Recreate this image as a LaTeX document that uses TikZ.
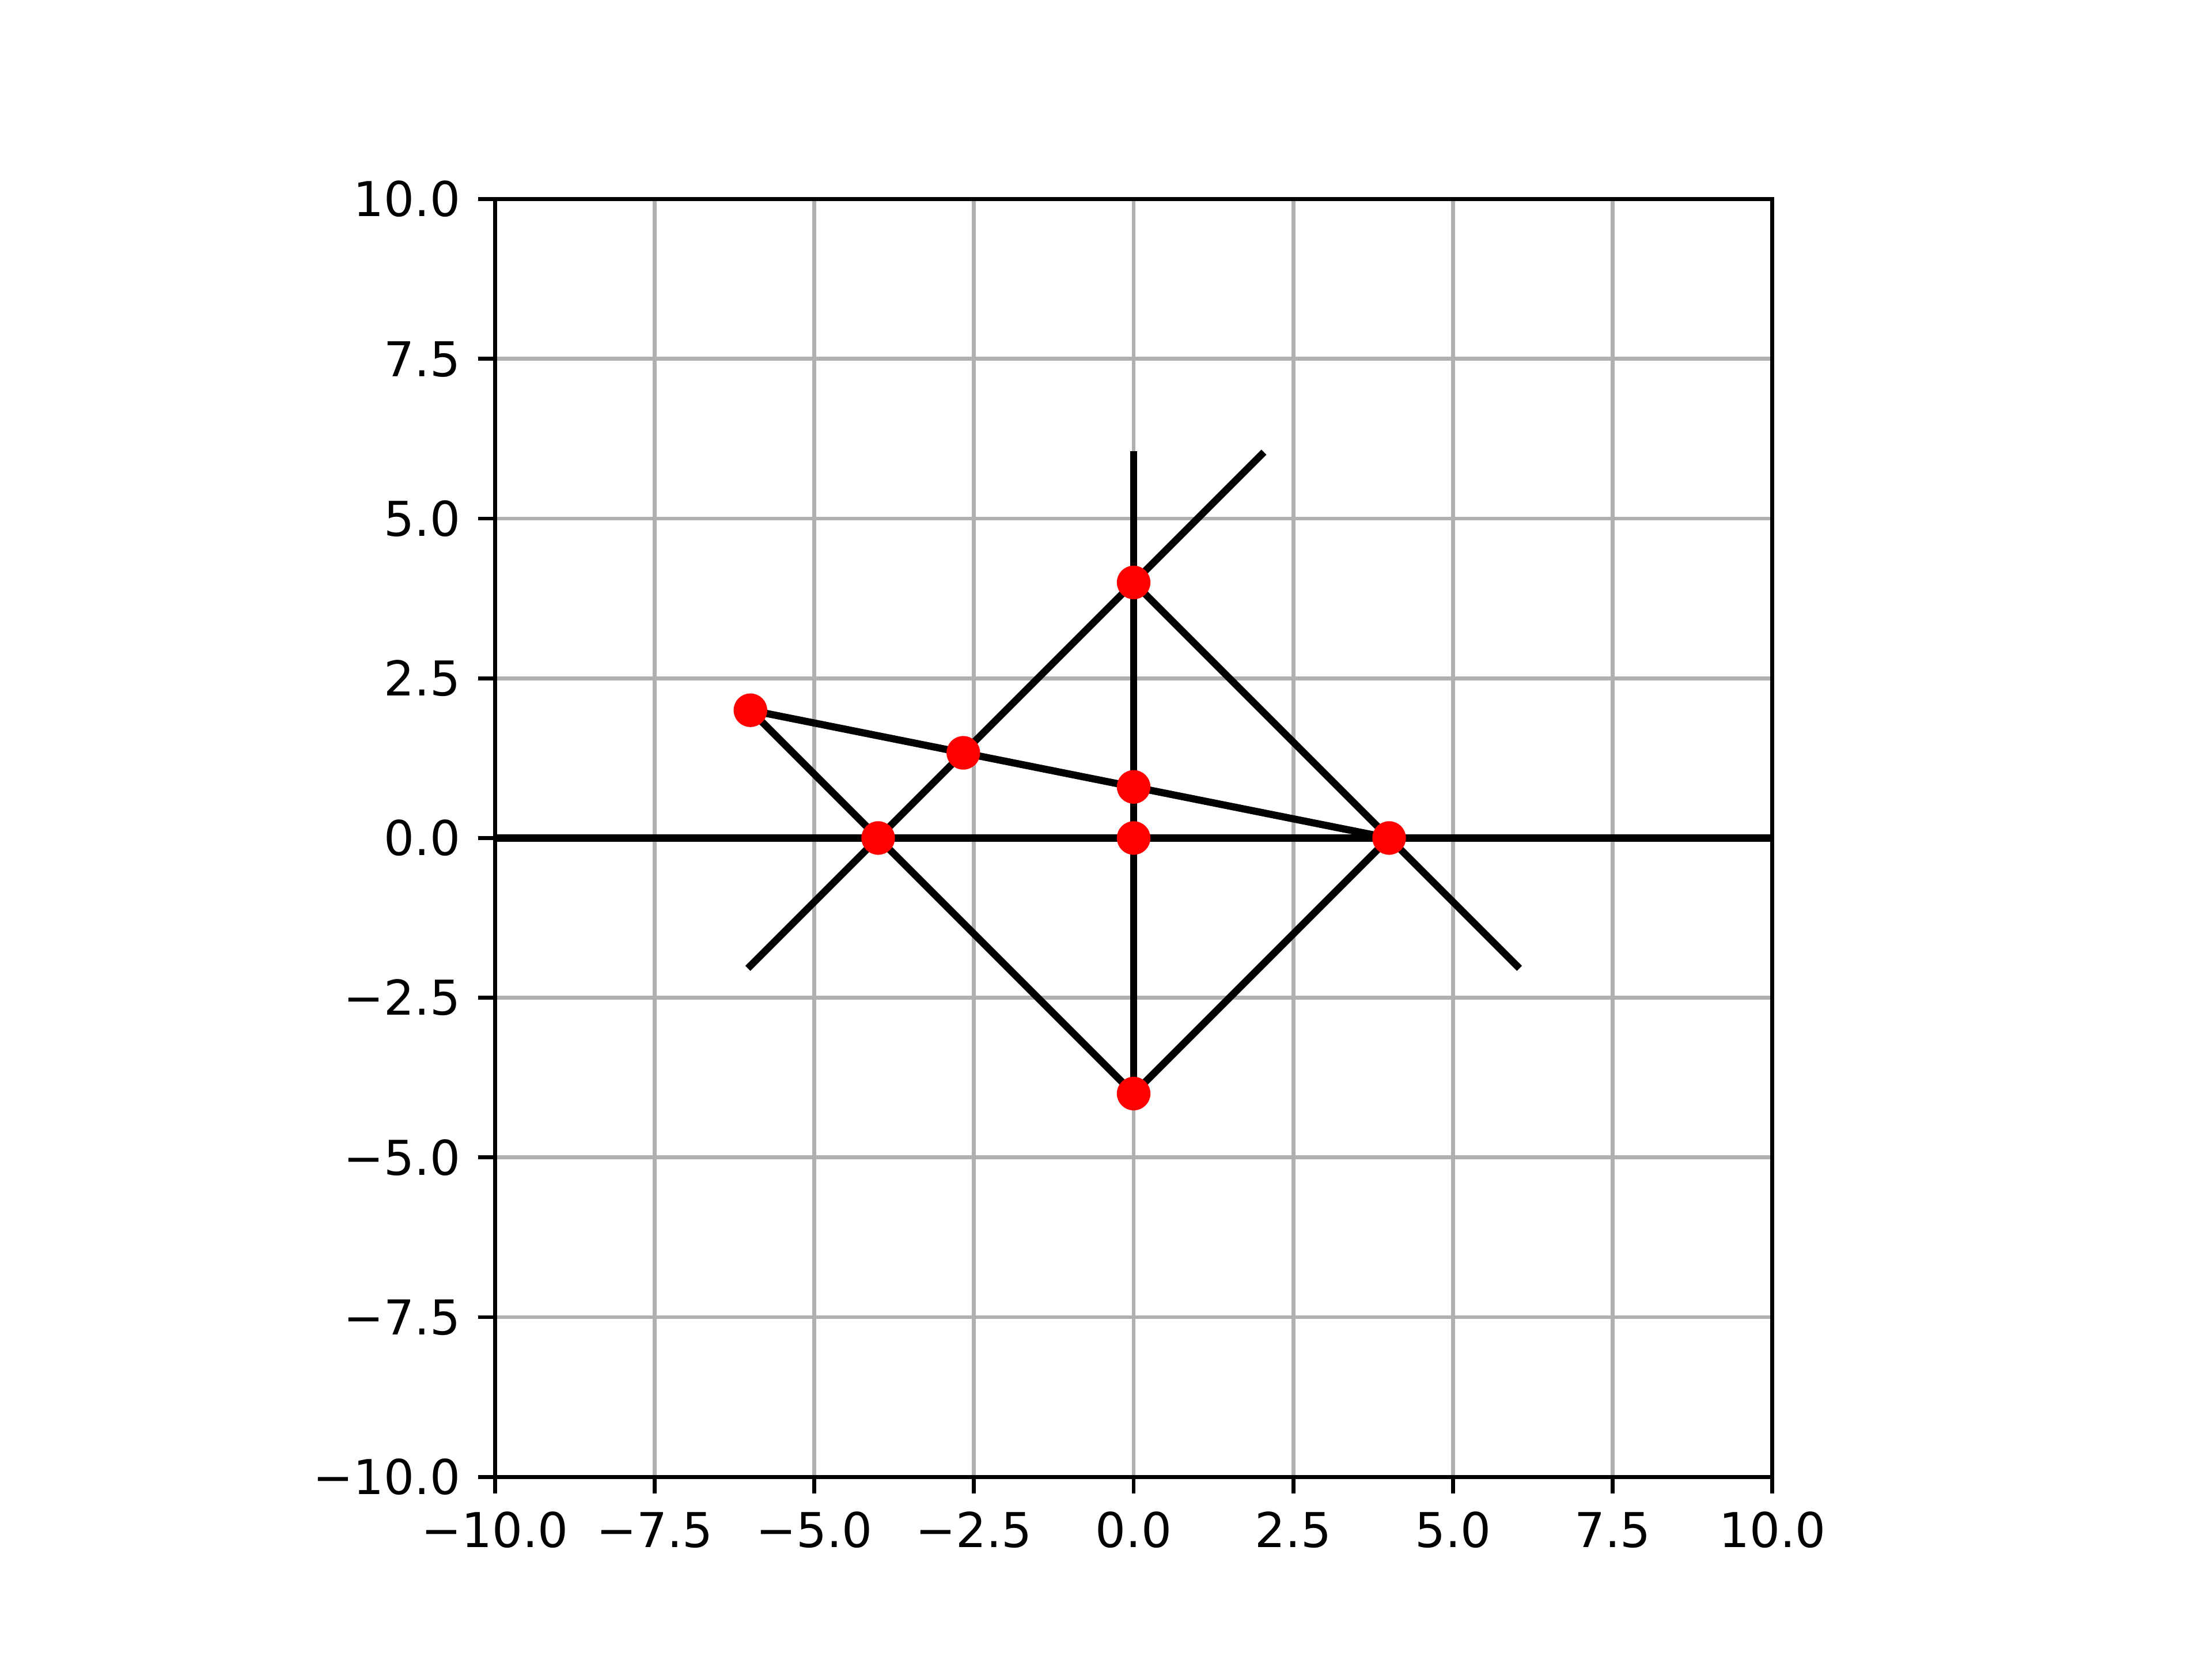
\documentclass[tikz,border=0pt]{standalone}
\usepackage{fontspec}
\setmainfont{DejaVu Sans}
\definecolor{gridgray}{HTML}{B0B0B0}
\begin{document}
\begin{tikzpicture}[x=0.1848in,y=0.1848in,
  gridline/.style={draw=gridgray,line width=0.8bp},
  dataline/.style={draw=black,line width=1.5bp,line cap=rect},
  spine/.style={draw=black,line width=0.8bp},
  tickmark/.style={draw=black,line width=0.8bp},
  redpt/.style={circle,fill=red,draw=none,minimum size=7bp,inner sep=0pt},
  ticklab/.style={font=\fontsize{10bp}{12bp}\selectfont,inner sep=0pt}]
\useasboundingbox (-3.28in,-2.376in) rectangle (3.12in,2.424in);
% grid
\foreach \v in {-10,-7.5,...,10} {
  \draw[gridline] (\v,-10) -- (\v,10);
  \draw[gridline] (-10,\v) -- (10,\v);
}
% coordinates
\coordinate (P) at (-6,2);
\coordinate (Q) at (4,0);
\coordinate (T) at (0,4);
\coordinate (B) at (0,-4);
\coordinate (O) at (0,0);
\coordinate (W) at (-4,0);
\coordinate (M) at (0,0.8);
\coordinate (X) at (-2.6667,1.3333);
\coordinate (L) at (-10,0);
\coordinate (R) at (10,0);
\coordinate (V) at (0,6);
\coordinate (E1) at (-6,-2);
\coordinate (E2) at (2,6);
\coordinate (E3) at (6,-2);
% data lines
\begin{scope}
\clip (-10,-10) rectangle (10,10);
\draw[dataline] (L) -- (R);
\end{scope}
\draw[dataline] (B) -- (V);
\draw[dataline] (E1) -- (E2);
\draw[dataline] (T) -- (E3);
\draw[dataline] (P) -- (B);
\draw[dataline] (B) -- (Q);
\draw[dataline] (P) -- (Q);
% spines
\draw[spine] (-10,-10) rectangle (10,10);
% ticks and labels
\foreach \v/\l in {-10/−10.0,-7.5/−7.5,-5/−5.0,-2.5/−2.5,0/0.0,2.5/2.5,5/5.0,7.5/7.5,10/10.0} {
  \draw[tickmark] (\v,-10) -- ++(0,-3.5bp);
  \node[ticklab,anchor=north] (xl\v) at ([yshift=-7bp]\v,-10) {\vphantom{0}\l};
  \draw[tickmark] (-10,\v) -- ++(-3.5bp,0);
  \node[ticklab,anchor=east] (yl\v) at ([xshift=-7bp]-10,\v) {\vphantom{0}\l};
}
% red points
\node[redpt] (nP) at (P) {};
\node[redpt] (nX) at (X) {};
\node[redpt] (nT) at (T) {};
\node[redpt] (nM) at (M) {};
\node[redpt] (nW) at (W) {};
\node[redpt] (nO) at (O) {};
\node[redpt] (nQ) at (Q) {};
\node[redpt] (nB) at (B) {};
\end{tikzpicture}
\end{document}
